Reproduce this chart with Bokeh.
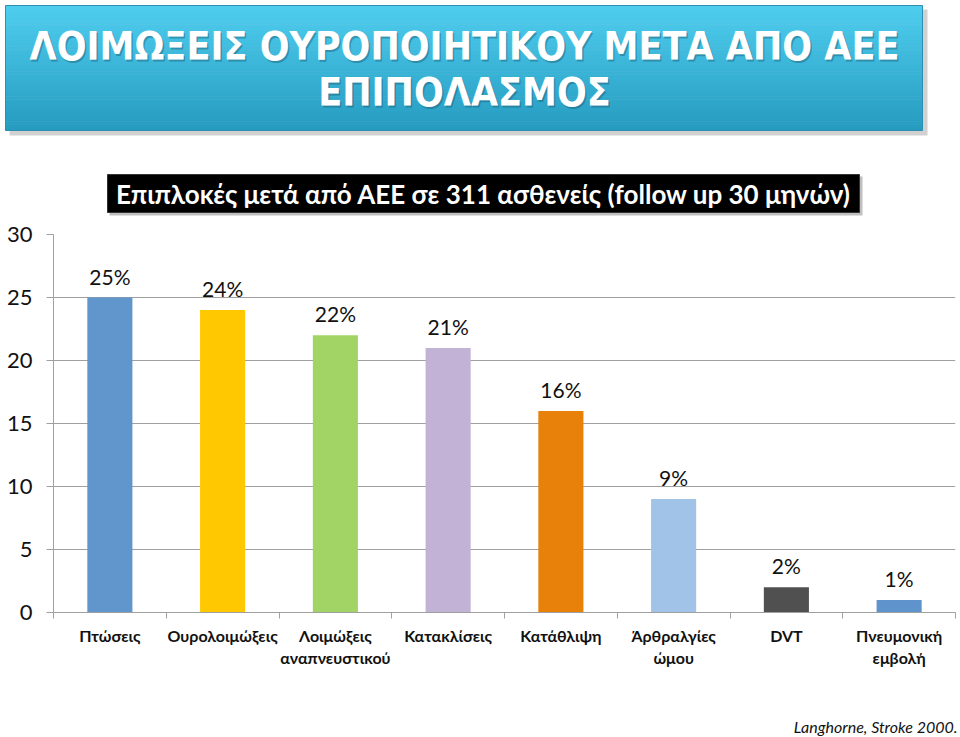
from bokeh.plotting import figure
from bokeh.models import (Range1d, LinearAxis, FixedTicker, ColumnDataSource, LabelSet)
from bokeh.layouts import column, row
from bokeh.core.properties import value
from bokeh.embed import file_html
from bokeh.resources import INLINE

# ---------------- data ----------------
title_lines = ["ΛΟΙΜΩΞΕΙΣ ΟΥΡΟΠΟΙΗΤΙΚΟΥ ΜΕΤΑ ΑΠΟ ΑΕΕ", "ΕΠΙΠΟΛΑΣΜΟΣ"]
subtitle = "Επιπλοκές μετά από ΑΕΕ σε 311 ασθενείς (follow up 30 μηνών)"
citation = "Langhorne, Stroke 2000."
categories = ["Πτώσεις", "Ουρολοιμώξεις", "Λοιμώξεις\nαναπνευστικού", "Κατακλίσεις",
              "Κατάθλιψη", "Άρθραλγίες\nώμου", "DVT", "Πνευμονική\nεμβολή"]
values = [25, 24, 22, 21, 16, 9, 2, 1]
colors = ["#6196CC", "#FFC800", "#A2D465", "#C2B3D6", "#E8810A", "#A2C3E8", "#505050", "#5E93CB"]
y_ticks = [0, 5, 10, 15, 20, 25, 30]

FONT = "Lato"
W = 960
NC = len(categories)
centers = [i + 0.5 for i in range(NC)]
bounds = list(range(NC + 1))

# ---------------- header figure (title + subtitle) ----------------
HT = 220
top = figure(width=W, height=HT, x_range=Range1d(0, W), y_range=Range1d(HT, 0),
             output_backend="svg", toolbar_location=None, min_border=0,
             x_axis_location=None, y_axis_location=None)
top.grid.visible = False
top.outline_line_color = None

top.quad(left=[9], right=[927], top=[9], bottom=[135], fill_color="#000000",
         fill_alpha=0.18, line_color=None)
c0 = (78, 205, 238)
c1 = (38, 155, 192)
n = 40
y0, y1 = 5, 130
for i in range(n):
    t = i / (n - 1)
    col = "#%02x%02x%02x" % tuple(int(round(a + (b - a) * t)) for a, b in zip(c0, c1))
    top.quad(left=[5], right=[922], top=[y0 + (y1 - y0) * i / n],
             bottom=[y0 + (y1 - y0) * (i + 1) / n + 0.5], fill_color=col, line_color=None)
top.quad(left=[5], right=[922], top=[5], bottom=[130], fill_color=None,
         line_color="#2C8FB0", line_width=1)

title_font = value("DejaVu Sans Condensed")
for ty, line in zip([46, 92], title_lines):
    top.text(x=[465.5], y=[ty + 1.5], text=[line], text_font=title_font, text_font_size="39px",
             text_font_style="bold", text_color="#1a5d73", text_alpha=0.45,
             text_align="center", text_baseline="middle")
    top.text(x=[464], y=[ty], text=[line], text_font=title_font, text_font_size="39px",
             text_font_style="bold", text_color="white", text_align="center",
             text_baseline="middle")

top.quad(left=[109], right=[862], top=[176], bottom=[215], fill_color="#000000",
         fill_alpha=0.25, line_color=None)
top.quad(left=[107], right=[859], top=[174], bottom=[212], fill_color="#000000",
         line_color="#333333")
top.text(x=[483], y=[193], text=[subtitle], text_font=value(FONT), text_font_size="26px",
         text_font_style="bold", text_color="white", text_align="center", text_baseline="middle")

# ---------------- main chart ----------------
p = figure(width=W, height=470, x_range=Range1d(0, NC), y_range=Range1d(0, 30),
           output_backend="svg", toolbar_location=None,
           x_axis_location=None, y_axis_location=None,
           min_border_left=53, min_border_right=5, min_border_top=14, min_border_bottom=78)
p.outline_line_color = None
p.xgrid.visible = False

src = ColumnDataSource(dict(x=centers, val=values, color=colors,
                            lab=[f"{v}%" for v in values]))
p.vbar(x="x", top="val", width=0.4, fill_color="color", line_color=None, source=src)

p.add_layout(LabelSet(x="x", y="val", text="lab", source=src, text_align="center",
                      text_baseline="bottom", y_offset=9, text_font=value(FONT),
                      text_font_size="21px", text_color="#111111"))

yax = LinearAxis(ticker=FixedTicker(ticks=y_ticks))
yax.axis_line_color = "#A0A0A0"
yax.major_tick_line_color = "#A0A0A0"
yax.major_tick_out = 7
yax.major_tick_in = 0
yax.minor_tick_line_color = None
yax.major_label_standoff = 14
yax.major_label_text_font = FONT
yax.major_label_text_font_size = "22px"
yax.major_label_text_color = "#111111"
p.add_layout(yax, "left")
p.ygrid.ticker = FixedTicker(ticks=y_ticks)
p.ygrid.grid_line_color = "#A0A0A0"

# category axis: labels at centers, tick marks at category boundaries
xax = LinearAxis(ticker=FixedTicker(ticks=centers, minor_ticks=bounds))
xax.axis_line_color = "#A0A0A0"
xax.major_tick_line_color = None
xax.major_tick_out = 0
xax.major_tick_in = 0
xax.minor_tick_line_color = "#A0A0A0"
xax.minor_tick_out = 6
xax.minor_tick_in = 0
xax.major_label_standoff = 7
xax.major_label_text_font = FONT
xax.major_label_text_font_size = "16px"
xax.major_label_text_font_style = "bold"
xax.major_label_text_color = "#111111"
xax.major_label_overrides = {c: lab for c, lab in zip(centers, categories)}
p.add_layout(xax, "below")

# ---------------- footer (citation) ----------------
bot = figure(width=W, height=47, x_range=Range1d(0, W), y_range=Range1d(47, 0),
             output_backend="svg", toolbar_location=None, min_border=0,
             x_axis_location=None, y_axis_location=None)
bot.grid.visible = False
bot.outline_line_color = None
bot.text(x=[957], y=[36], text=[citation], text_font=value(FONT), text_font_size="16px",
         text_font_style="italic", text_color="#111111", text_align="right",
         text_baseline="middle")

layout = column(row(top), p, row(bot), spacing=0)
open("out.html", "w").write(file_html(layout, INLINE))
